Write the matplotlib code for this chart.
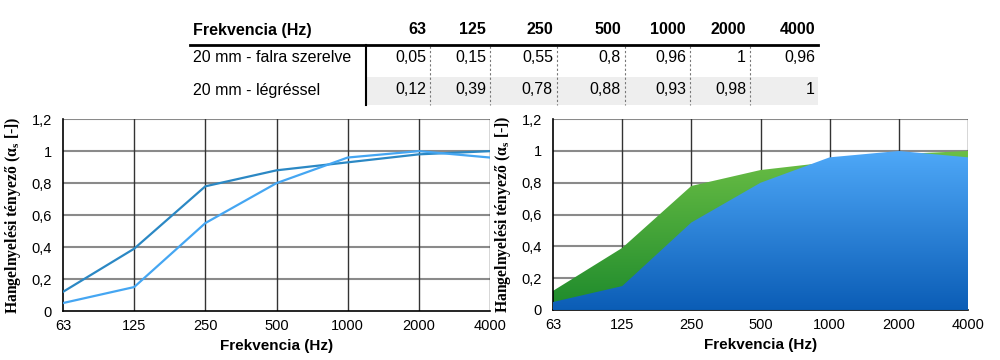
import numpy as np
import matplotlib.pyplot as plt
from matplotlib.colors import LinearSegmentedColormap

# Data
freqs = ["63", "125", "250", "500", "1000", "2000", "4000"]
falra = [0.05, 0.15, 0.55, 0.8, 0.96, 1.0, 0.96]
legres = [0.12, 0.39, 0.78, 0.88, 0.93, 0.98, 1.0]
row_labels = ["20 mm - falra szerelve", "20 mm - légréssel"]
yticks = [0, 0.2, 0.4, 0.6, 0.8, 1.0, 1.2]

sans = ["Liberation Sans", "DejaVu Sans"]
serif = ["Liberation Serif", "DejaVu Serif"]
plt.rcParams["font.family"] = sans


def fmt(v):
    s = f"{v:.2f}".rstrip("0").rstrip(".")
    return s.replace(".", ",")


def style_axes(ax):
    x = np.arange(len(freqs))
    ax.set_xlim(0, len(freqs) - 1)
    ax.set_ylim(0, 1.2)
    ax.set_xticks(x)
    ax.set_xticklabels(freqs, fontsize=10.5)
    ax.set_yticks(yticks)
    ax.set_yticklabels([fmt(v) for v in yticks], fontsize=10.5)
    ax.tick_params(length=0, pad=8)
    ax.tick_params(axis="x", pad=6)
    for v in yticks[1:]:
        ax.axhline(v, color="#8a8a8a", lw=1.5, zorder=0.5)
    for i in x[1:]:
        ax.axvline(i, color="#333333", lw=1.0, zorder=0.5)
    for s in ["top", "right"]:
        ax.spines[s].set_visible(False)
    ax.spines["left"].set_color("black")
    ax.spines["bottom"].set_color("black")
    ax.spines["left"].set_linewidth(1.2)
    ax.spines["bottom"].set_linewidth(1.2)
    ax.set_xlabel("Frekvencia (Hz)", fontsize=11, fontweight="bold", labelpad=4)
    ax.set_ylabel("Hangelnyelési tényező (α$_\\mathregular{s}$ [-])",
                  family=serif, fontsize=11.3, fontweight="bold", labelpad=6)


def gradient_fill(ax, x, y, top, bottom, z):
    poly = ax.fill_between(x, 0, y, color="none", lw=0)
    cmap = LinearSegmentedColormap.from_list("g", [bottom, top])
    grad = np.linspace(0, 1, 256).reshape(-1, 1)
    im = ax.imshow(grad, extent=[0, len(x) - 1, 0, max(y)], origin="lower",
                   aspect="auto", cmap=cmap, zorder=z)
    im.set_clip_path(poly.get_paths()[0], transform=ax.transData)


fig = plt.figure(figsize=(10, 3.6), dpi=100)

# Table on top, drawn in pixel coordinates
tab = fig.add_axes([0, 0, 1, 1])
tab.set_xlim(0, 1000)
tab.set_ylim(360, 0)
tab.axis("off")
col_right = [426, 486, 553, 621, 686, 746, 815]
tab.add_patch(plt.Rectangle((367, 77), 451, 28, color="#eeeeee", lw=0))
tab.text(193, 30, "Frekvencia (Hz)", fontsize=11.5, fontweight="bold",
         ha="left", va="center")
for f, xr in zip(freqs, col_right):
    tab.text(xr, 30, f, fontsize=11.5, fontweight="bold", ha="right", va="center")
for row, vals, yy in [(row_labels[0], falra, 58), (row_labels[1], legres, 90)]:
    tab.text(193, yy, row, fontsize=11.5, ha="left", va="center")
    for v, xr in zip(vals, col_right):
        tab.text(xr, yy, fmt(v), fontsize=11.5, ha="right", va="center")
for xr in col_right[:-1]:
    tab.plot([xr + 4, xr + 4], [46, 105], color="#777777", lw=0.8, ls=(0, (2, 2)))
tab.plot([190, 818], [45, 45], color="black", lw=2)
tab.plot([366, 366], [45, 105], color="black", lw=1.5)

x = np.arange(len(freqs))

# Left: line chart
ax1 = fig.add_axes([0.063, 0.136, 0.427, 0.533])
ax1.plot(x, legres, color="#2b88c4", lw=1.6, zorder=3)
ax1.plot(x, falra, color="#45a6f2", lw=1.6, zorder=3)
style_axes(ax1)

# Right: area chart with gradients
ax2 = fig.add_axes([0.553, 0.139, 0.415, 0.530])
style_axes(ax2)
gradient_fill(ax2, x, legres, "#6cbf45", "#1d8a2c", 2)
gradient_fill(ax2, x, falra, "#4ea8f8", "#0b5db6", 3)

fig.savefig("out.png", dpi=100)
